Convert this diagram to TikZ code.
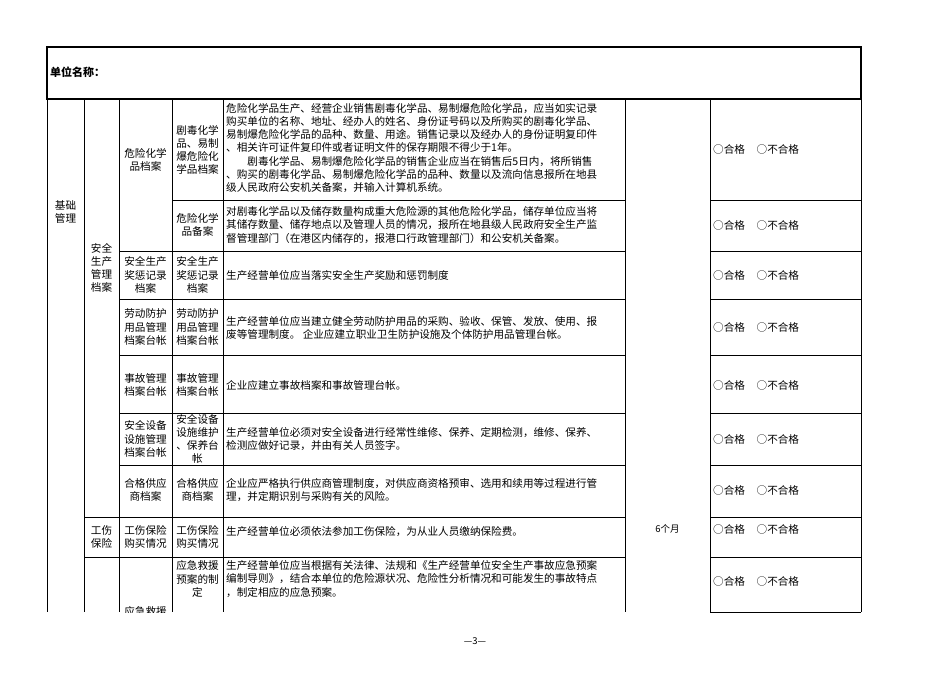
\documentclass[tikz,border=0pt]{standalone}
\usepackage{fontspec}
\setmainfont{Noto Sans CJK SC}
\begin{document}
\begin{tikzpicture}[x=1pt,y=-1pt,
  ln/.style={line width=0.8pt},
  tx/.style={font=\fontsize{10.6}{13.2}\selectfont,align=center,inner sep=0pt},
  ds/.style={font=\fontsize{10.6}{13.2}\selectfont,align=left,anchor=west,inner sep=0pt},
  ok/.style={font=\fontsize{10.6}{13}\selectfont,anchor=west,inner sep=0pt}]
\useasboundingbox (0,0) rectangle (950,672);
\fill[white] (0,0) rectangle (950,672);
\draw[line width=1.3pt] (47,47) rectangle (861,99);
\node[anchor=west,inner sep=0pt,font=\fontsize{11}{13}\selectfont\bfseries] (hdr) at (50,72) {单位名称：};
\foreach \x in {47,84,119,172,223,625,710,861}{\draw[ln] (\x,99) -- (\x,612);}
\draw[ln] (172,200) -- (625,200); \draw[ln] (710,200) -- (861,200);
\foreach \y in {251,299,355,413,465}{\draw[ln] (119,\y) -- (625,\y); \draw[ln] (710,\y) -- (861,\y);}
\foreach \y in {517,557}{\draw[ln] (84,\y) -- (625,\y); \draw[ln] (710,\y) -- (861,\y);}
\draw[ln] (710,612) -- (861,612);
\node[tx] (c1) at (65.5,212) {基础\\管理};
\node[tx] (c2) at (101.5,268) {安全\\生产\\管理\\档案};
\node[tx] (c2b) at (101.5,537) {工伤\\保险};
\node[tx] (a3) at (145.5,160) {危险化学\\品档案};
\node[tx] (a4) at (197.5,150) {剧毒化学\\品、易制\\爆危险化\\学品档案};
\node[ds] (a5) at (226,148) {危险化学品生产、经营企业销售剧毒化学品、易制爆危险化学品，应当如实记录\\购买单位的名称、地址、经办人的姓名、身份证号码以及所购买的剧毒化学品、\\易制爆危险化学品的品种、数量、用途。销售记录以及经办人的身份证明复印件\\、相关许可证件复印件或者证明文件的保存期限不得少于1年。\\\hspace{2em}剧毒化学品、易制爆危险化学品的销售企业应当在销售后5日内，将所销售\\、购买的剧毒化学品、易制爆危险化学品的品种、数量以及流向信息报所在地县\\级人民政府公安机关备案，并输入计算机系统。};
\node[tx] (b4) at (197.5,225) {危险化学\\品备案};
\node[ds] (b5) at (226,225) {对剧毒化学品以及储存数量构成重大危险源的其他危险化学品，储存单位应当将\\其储存数量、储存地点以及管理人员的情况，报所在地县级人民政府安全生产监\\督管理部门（在港区内储存的，报港口行政管理部门）和公安机关备案。};
\node[tx] (r2a) at (145.5,275) {安全生产\\奖惩记录\\档案};
\node[tx] (r2b) at (197.5,275) {安全生产\\奖惩记录\\档案};
\node[ds] (r2c) at (226,275) {生产经营单位应当落实安全生产奖励和惩罚制度};
\node[tx] (r3a) at (145.5,327) {劳动防护\\用品管理\\档案台帐};
\node[tx] (r3b) at (197.5,327) {劳动防护\\用品管理\\档案台帐};
\node[ds] (r3c) at (226,328) {生产经营单位应当建立健全劳动防护用品的采购、验收、保管、发放、使用、报\\废等管理制度。 企业应建立职业卫生防护设施及个体防护用品管理台帐。};
\node[tx] (r4a) at (145.5,385) {事故管理\\档案台帐};
\node[tx] (r4b) at (197.5,385) {事故管理\\档案台帐};
\node[ds] (r4c) at (226,385) {企业应建立事故档案和事故管理台帐。};
\node[tx] (r5a) at (145.5,439) {安全设备\\设施管理\\档案台帐};
\node[tx] (r5b) at (197.5,439) {安全设备\\设施维护\\、保养台\\帐};
\node[ds] (r5c) at (226,439) {生产经营单位必须对安全设备进行经常性维修、保养、定期检测，维修、保养、\\检测应做好记录，并由有关人员签字。};
\node[tx] (r6a) at (145.5,490) {合格供应\\商档案};
\node[tx] (r6b) at (197.5,490) {合格供应\\商档案};
\node[ds] (r6c) at (226,490) {企业应严格执行供应商管理制度，对供应商资格预审、选用和续用等过程进行管\\理，并定期识别与采购有关的风险。};
\node[tx] (r7a) at (145.5,537) {工伤保险\\购买情况};
\node[tx] (r7b) at (197.5,537) {工伤保险\\购买情况};
\node[ds] (r7c) at (226,532) {生产经营单位必须依法参加工伤保险，为从业人员缴纳保险费。};
\node[tx] (r8b) at (197.5,579) {应急救援\\预案的制\\定};
\node[ds] (r8c) at (226,579) {生产经营单位应当根据有关法律、法规和《生产经营单位安全生产事故应急预案\\编制导则》，结合本单位的危险源状况、危险性分析情况和可能发生的事故特点\\，制定相应的应急预案。};
\begin{scope}
\clip (119,557) rectangle (172,612);
\node[tx,anchor=north] (r8a) at (145.5,606) {应急救援};
\end{scope}
\node[font=\fontsize{9.5}{11}\selectfont,inner sep=0pt] (six) at (667.5,529) {6个月};
\foreach \y/\n in {149/o1,225/o2,275/o3,327/o4,385/o5,439/o6,490/o7,529/o8,581/o9}
  \node[ok] (\n) at (713,\y) {○合格\hspace{1.1em}○不合格};
\node[font=\fontsize{9.5}{11}\selectfont,inner sep=0pt] (pg) at (475,641) {—3—};
\end{tikzpicture}
\end{document}
